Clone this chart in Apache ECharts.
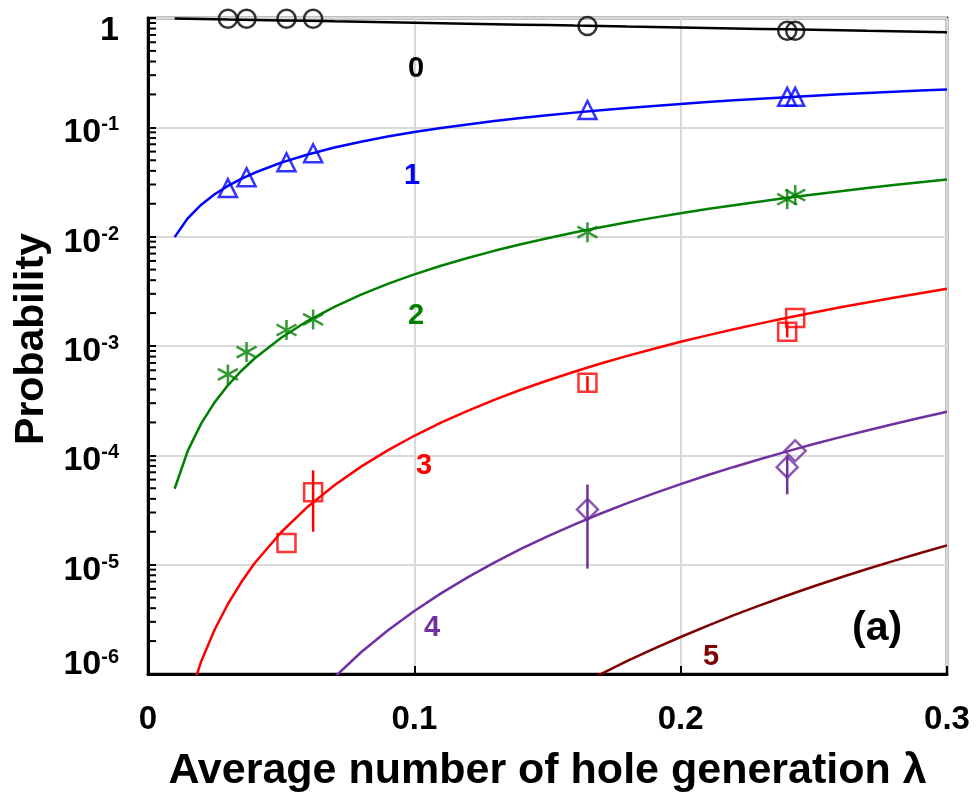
<!DOCTYPE html>
<html>
<head>
<meta charset="utf-8">
<script src="https://cdn.jsdelivr.net/npm/echarts@6/dist/echarts.min.js"></script>
<style>
  html, body { margin: 0; padding: 0; background: #fff; }
  #chart { width: 977px; height: 801px; }
</style>
</head>
<body>
<div id="chart"></div>
<script>
// model curves, lambda grid
const lambdaGrid = [0.01, 0.015, 0.02, 0.025, 0.03, 0.035, 0.04, 0.05, 0.06, 0.07, 0.08, 0.09, 0.10,
  0.11, 0.12, 0.13, 0.14, 0.15, 0.16, 0.17, 0.18, 0.19, 0.20,
  0.21, 0.22, 0.23, 0.24, 0.25, 0.26, 0.27, 0.28, 0.29, 0.30];

const curve0 = [0.990, 0.985, 0.980, 0.975, 0.970, 0.966, 0.961, 0.951, 0.942, 0.932, 0.923, 0.914, 0.905,
  0.896, 0.887, 0.878, 0.869, 0.861, 0.852, 0.844, 0.835, 0.827, 0.819,
  0.811, 0.803, 0.795, 0.787, 0.779, 0.771, 0.763, 0.756, 0.748, 0.741];
const curve1 = [0.0099, 0.0148, 0.0196, 0.0244, 0.0291, 0.0338, 0.0384, 0.0476, 0.0565, 0.0653, 0.0739, 0.0823, 0.0905,
  0.0985, 0.1064, 0.1142, 0.1217, 0.1291, 0.1363, 0.1434, 0.1504, 0.1571, 0.1638,
  0.1702, 0.1766, 0.1827, 0.1888, 0.1947, 0.2005, 0.2061, 0.2116, 0.2170, 0.2223];
const curve2 = [4.95e-5, 1.11e-4, 1.96e-4, 3.05e-4, 4.37e-4, 5.91e-4, 7.69e-4, 1.19e-3, 1.70e-3, 2.28e-3, 2.95e-3, 3.70e-3, 4.52e-3,
  5.42e-3, 6.39e-3, 7.42e-3, 8.52e-3, 9.68e-3, 1.091e-2, 1.219e-2, 1.353e-2, 1.493e-2, 1.638e-2,
  1.787e-2, 1.942e-2, 2.102e-2, 2.266e-2, 2.434e-2, 2.606e-2, 2.783e-2, 2.963e-2, 3.147e-2, 3.334e-2];
const curve3 = [1.65e-7, 5.54e-7, 1.31e-6, 2.54e-6, 4.37e-6, 6.90e-6, 1.03e-5, 1.98e-5, 3.39e-5, 5.33e-5, 7.88e-5, 1.11e-4, 1.51e-4,
  1.99e-4, 2.55e-4, 3.22e-4, 3.98e-4, 4.84e-4, 5.82e-4, 6.91e-4, 8.12e-4, 9.45e-4, 1.092e-3,
  1.251e-3, 1.424e-3, 1.611e-3, 1.812e-3, 2.028e-3, 2.259e-3, 2.504e-3, 2.765e-3, 3.042e-3, 3.334e-3];
const lambdaGrid4 = [0.06, 0.07, 0.08, 0.09, 0.10, 0.11, 0.12, 0.13, 0.14, 0.15,
  0.16, 0.17, 0.18, 0.19, 0.20, 0.21, 0.22, 0.23, 0.24, 0.25, 0.26, 0.27, 0.28, 0.29, 0.30];
const curve4 = [5.09e-7, 9.33e-7, 1.58e-6, 2.50e-6, 3.77e-6, 5.46e-6, 7.66e-6, 1.045e-5, 1.392e-5, 1.816e-5,
  2.327e-5, 2.936e-5, 3.654e-5, 4.490e-5, 5.459e-5, 6.568e-5, 7.833e-5, 9.264e-5, 1.087e-4, 1.268e-4,
  1.468e-4, 1.690e-4, 1.936e-4, 2.205e-4, 2.500e-4];
const lambdaGrid5 = [0.16, 0.17, 0.18, 0.19, 0.20, 0.21, 0.22, 0.23, 0.24, 0.25, 0.26, 0.27, 0.28, 0.29, 0.30];
const curve5 = [7.45e-7, 9.98e-7, 1.32e-6, 1.71e-6, 2.18e-6, 2.76e-6, 3.45e-6, 4.26e-6, 5.22e-6, 6.34e-6,
  7.63e-6, 9.13e-6, 1.084e-5, 1.279e-5, 1.500e-5];

// measured points
const lambdaPts = [0.030, 0.037, 0.052, 0.062, 0.165, 0.240, 0.243];
const meas0 = [0.985, 0.985, 0.985, 0.985, 0.845, 0.765, 0.765];
const meas1 = [0.0278, 0.035, 0.048, 0.058, 0.144, 0.190, 0.190];
const meas2 = [5.5e-4, 8.8e-4, 1.4e-3, 1.75e-3, 0.011, 0.022, 0.024];
const lambdaPts3 = [0.052, 0.062, 0.165, 0.240, 0.243];
const meas3 = [1.58e-5, 4.6e-5, 4.6e-4, 1.35e-3, 1.8e-3];
const lambdaPts4 = [0.165, 0.240, 0.243];
const meas4 = [3.2e-5, 7.8e-5, 1.1e-4];

// error bars [lambda, low, high]
const errBars3 = [[0.062, 2.0e-5, 7.3e-5], [0.165, 3.9e-4, 5.3e-4], [0.240, 1.2e-3, 1.65e-3]];
const errBars4 = [[0.165, 9.2e-6, 5.4e-5], [0.240, 4.4e-5, 1.0e-4]];

const minorTickValues = [];
[1e-6, 1e-5, 1e-4, 1e-3, 1e-2, 1e-1].forEach(function (d) {
  for (let m = 2; m <= 9; m++) minorTickValues.push(+(m * d).toPrecision(3));
});

const xTicks = ['0', '0.1', '0.2', '0.3'];

const COLORS = ['#000000', '#0000ff', '#008000', '#ff0000', '#7030a0', '#7f0000'];
const FONT = '"Liberation Sans", Arial, sans-serif';
const STAR = 'path://M10,0L10,20M1.5,4.5L18.5,15.5M1.5,15.5L18.5,4.5';

const chart = echarts.init(document.getElementById('chart'));

function zip(xs, ys) { return xs.map((x, i) => [x, ys[i]]); }

function curveSeries(xs, ys, color) {
  return {
    type: 'line', data: zip(xs, ys), showSymbol: false, smooth: false,
    lineStyle: { color: color, width: 2.5 }, clip: true, z: 3
  };
}

function pointSeries(xs, ys, color, symbol, size) {
  return {
    type: 'scatter', data: zip(xs, ys), symbol: symbol, symbolSize: size,
    itemStyle: { color: 'rgba(0,0,0,0)', borderColor: color, borderWidth: 2.5 }, z: 5
  };
}

function errSeries(bars, color) {
  return {
    type: 'custom', data: bars, z: 4,
    encode: { x: 0, y: [1, 2] },
    renderItem: function (params, api) {
      const a = api.coord([api.value(0), api.value(1)]);
      const b = api.coord([api.value(0), api.value(2)]);
      return {
        type: 'line',
        shape: { x1: a[0], y1: a[1], x2: b[0], y2: b[1] },
        style: { stroke: color, lineWidth: 2.5 }
      };
    }
  };
}

const labelStyle = { fontFamily: FONT, fontWeight: 'bold', fontSize: 29 };

function curveLabel(text, color, left, top) {
  return { type: 'text', left: left, top: top, z: 100, style: Object.assign({ text: text, fill: color }, labelStyle) };
}

const tickFont = { fontFamily: FONT, fontWeight: 'bold', color: '#000' };

const option = {
  animation: false,
  backgroundColor: '#fff',
  grid: {
    left: 148, right: 30, top: 18, bottom: 127, outerBoundsMode: 'none', containLabel: false,
    show: true, borderColor: '#000', borderWidth: 2.5
  },
  xAxis: {
    type: 'value', min: 0, max: 0.3, interval: 0.1,
    name: 'Average number of hole generation λ',
    nameLocation: 'middle', nameGap: 76,
    nameTextStyle: { fontFamily: FONT, fontWeight: 'bold', fontSize: 43, color: '#000' },
    axisLine: { lineStyle: { color: '#000', width: 3 } },
    axisTick: { inside: true, length: 8, lineStyle: { color: '#000', width: 2 } },
    axisLabel: {
      margin: 29, color: '#000', fontFamily: FONT, fontWeight: 'bold', fontSize: 33,
      formatter: function (v) { return xTicks[Math.round(v * 10)]; }
    },
    splitLine: { show: true, lineStyle: { color: '#d9d9d9', width: 2 } }
  },
  yAxis: {
    type: 'log', logBase: 10, min: 1e-6, max: 1,
    name: 'Probability',
    nameLocation: 'middle', nameGap: 96, nameRotate: 90,
    nameTextStyle: { fontFamily: FONT, fontWeight: 'bold', fontSize: 41, color: '#000', padding: [0, 0, 0, 14] },
    axisLine: { show: true, lineStyle: { color: '#000', width: 3 } },
    axisTick: { inside: true, length: 8, lineStyle: { color: '#000', width: 2 } },
    splitLine: { show: true, lineStyle: { color: '#d9d9d9', width: 2 } },
    axisLabel: {
      margin: 29, color: '#000', padding: [10, 0, 0, 0],
      formatter: function (v) {
        const e = Math.round(Math.log10(v));
        if (e === 0) return '{gapTop| }\n{n|1}';
        if (e === -6) return '{n|10}{s|' + e + '}\n{gapBot| }';
        return '{n|10}{s|' + e + '}';
      },
      rich: {
        n: Object.assign({ fontSize: 34, lineHeight: 35, verticalAlign: 'bottom' }, tickFont),
        s: Object.assign({ fontSize: 20, lineHeight: 20, verticalAlign: 'top' }, tickFont),
        gapTop: Object.assign({ fontSize: 8, lineHeight: 14 }, tickFont),
        gapBot: Object.assign({ fontSize: 8, lineHeight: 29 }, tickFont)
      }
    }
  },
  series: [
    curveSeries(lambdaGrid, curve0, COLORS[0]),
    curveSeries(lambdaGrid, curve1, COLORS[1]),
    curveSeries(lambdaGrid, curve2, COLORS[2]),
    curveSeries(lambdaGrid, curve3, COLORS[3]),
    curveSeries(lambdaGrid4, curve4, COLORS[4]),
    curveSeries(lambdaGrid5, curve5, COLORS[5]),
    errSeries(errBars3, COLORS[3]),
    errSeries(errBars4, COLORS[4]),
    pointSeries(lambdaPts, meas0, COLORS[0], 'circle', 18),
    pointSeries(lambdaPts, meas1, COLORS[1], 'triangle', 18),
    pointSeries(lambdaPts, meas2, COLORS[2], STAR, 20),
    pointSeries(lambdaPts3, meas3, COLORS[3], 'rect', 18),
    pointSeries(lambdaPts4, meas4, COLORS[4], 'diamond', 21),
    {
      // minor log ticks on the y axis
      type: 'custom', data: minorTickValues.map(v => [0, v]), z: 6, clip: false,
      renderItem: function (params, api) {
        const p = api.coord([0, api.value(1)]);
        return {
          type: 'line',
          shape: { x1: p[0], y1: p[1], x2: p[0] + 8, y2: p[1] },
          style: { stroke: '#000', lineWidth: 2 }
        };
      }
    }
  ],
  graphic: [
    curveLabel('0', COLORS[0], 408, 54),
    curveLabel('1', COLORS[1], 404, 161),
    curveLabel('2', COLORS[2], 408, 301),
    curveLabel('3', COLORS[3], 416, 451),
    curveLabel('4', COLORS[4], 424, 613),
    curveLabel('5', COLORS[5], 703, 642),
    { type: 'text', left: 852, top: 608, z: 100, style: { text: '(a)', fill: '#000', fontFamily: FONT, fontWeight: 'bold', fontSize: 41 } }
  ]
};

chart.setOption(option);
</script>
</body>
</html>
